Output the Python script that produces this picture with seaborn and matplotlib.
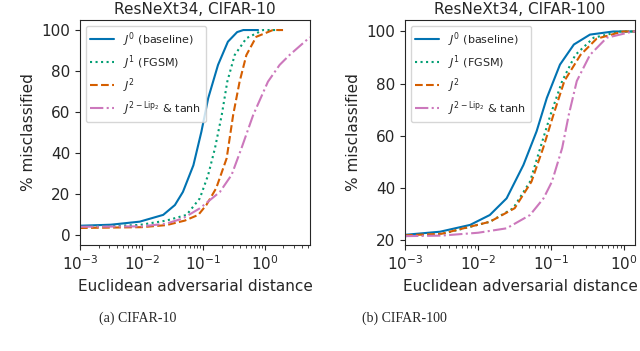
import numpy as np
import pandas as pd
import matplotlib
matplotlib.use("Agg")
import matplotlib.pyplot as plt
import seaborn as sns

sns.set_style("ticks")
plt.rcParams['font.family'] = ['DejaVu Sans']
plt.rcParams['mathtext.fontset'] = 'dejavusans'

labels = [r'$J^0$ (baseline)', r'$J^1$ (FGSM)', r'$J^2$', r'$J^{2-\mathrm{Lip}_2}$ & tanh']
colors = ['#0173b2', '#029e73', '#d55e00', '#cc78bc']
styles = ['-', ':', '--', '-.']

# CIFAR-10 (log10 of distance, % misclassified)
c10_j0_logx = [-3, -2.5, -2.03, -1.65, -1.46, -1.33, -1.16, -1.03, -0.92, -0.76, -0.6, -0.45, -0.35, -0.11]
c10_j0_y = [4.5, 5.0, 6.5, 9.8, 14.6, 21, 34, 50.4, 66.7, 83, 94.3, 99, 100, 100]
c10_j1_logx = [-3, -2.5, -2.03, -1.6, -1.27, -1.055, -0.92, -0.81, -0.70, -0.61, -0.49, -0.30, -0.03, 0.24]
c10_j1_y = [4.0, 4.3, 4.9, 7.0, 9.8, 17.9, 29.3, 42.3, 58.5, 74.8, 87.8, 96, 100, 100]
c10_j2_logx = [-3, -2, -1.6, -1.3, -1.08, -0.95, -0.79, -0.62, -0.515, -0.41, -0.30, -0.14, 0.13, 0.295]
c10_j2_y = [3.4, 3.8, 4.8, 7.0, 9.8, 14.6, 22.8, 37.4, 58.5, 74.8, 87.8, 96.7, 100, 100]
c10_j3_logx = [-3, -2, -1.6, -1.33, -1.055, -0.73, -0.54, -0.38, -0.19, 0.05, 0.24, 0.40, 0.73]
c10_j3_y = [4.0, 4.2, 5.5, 8.1, 13, 21, 29.3, 42.3, 58.5, 74.8, 83, 87.8, 96.5]

# CIFAR-100
c100_j0_logx = [-3, -2.52, -2.11, -1.84, -1.61, -1.38, -1.20, -1.06, -0.88, -0.69, -0.47, -0.15, 0.15]
c100_j0_y = [22, 23.2, 25.8, 29.6, 36, 48.8, 61.7, 74.5, 87.3, 95, 98.8, 100, 100]
c100_j1_logx = [-3, -2.5, -1.84, -1.52, -1.29, -1.15, -1.01, -0.85, -0.67, -0.42, -0.05, 0.15]
c100_j1_y = [21.5, 22.3, 27, 32.2, 42.4, 55.3, 68, 81, 91, 97.6, 100, 100]
c100_j2_logx = [-3, -2.5, -1.84, -1.50, -1.27, -1.11, -0.97, -0.82, -0.60, -0.38, -0.02, 0.15]
c100_j2_y = [21.8, 22.4, 27, 32.2, 42.4, 55.3, 68, 81, 91, 97.2, 100, 100]
c100_j3_logx = [-3, -2.5, -2, -1.61, -1.29, -1.105, -0.99, -0.85, -0.76, -0.65, -0.47, -0.24, 0.12, 0.15]
c100_j3_y = [21.5, 21.7, 22.8, 24.5, 29.6, 36, 42.4, 55.3, 68, 81, 91, 97.6, 100, 100]

panels = [
    dict(title='ResNeXt34, CIFAR-10', caption='(a) CIFAR-10',
         series=[(c10_j0_logx, c10_j0_y), (c10_j1_logx, c10_j1_y), (c10_j2_logx, c10_j2_y), (c10_j3_logx, c10_j3_y)],
         xlim=(1e-3, 5.4), ylim=(-4.9, 104.9), yticks=[0, 20, 40, 60, 80, 100],
         rect=[80/640, 106/351, 230/640, 225/351], capx=138/640),
    dict(title='ResNeXt34, CIFAR-100', caption='(b) CIFAR-100',
         series=[(c100_j0_logx, c100_j0_y), (c100_j1_logx, c100_j1_y), (c100_j2_logx, c100_j2_y), (c100_j3_logx, c100_j3_y)],
         xlim=(1e-3, 1.4), ylim=(18.1, 104.4), yticks=[20, 40, 60, 80, 100],
         rect=[405/640, 106/351, 230/640, 225/351], capx=404/640),
]

fig = plt.figure(figsize=(6.4, 3.51), dpi=100)
for p in panels:
    ax = fig.add_axes(p['rect'])
    for (lx, yv), lab, col, ls in zip(p['series'], labels, colors, styles):
        df = pd.DataFrame({'x': np.power(10.0, lx), 'y': yv})
        sns.lineplot(data=df, x='x', y='y', ax=ax, color=col, linestyle=ls,
                     linewidth=1.5, label=lab, sort=False)
    ax.set_xscale('log')
    ax.set_xlim(*p['xlim'])
    ax.set_ylim(*p['ylim'])
    ax.set_yticks(p['yticks'])
    ax.tick_params(labelsize=11)
    ax.set_title(p['title'], fontsize=11, pad=4)
    ax.set_xlabel('Euclidean adversarial distance', fontsize=11)
    ax.set_ylabel('% misclassified', fontsize=11)
    ax.legend(loc='upper left', fontsize=8, handlelength=2.2, labelspacing=0.4)
    fig.text(p['capx'], 0.094, p['caption'], ha='center', va='center',
             fontsize=10, family='Liberation Serif')

fig.savefig('out.png', dpi=100)
